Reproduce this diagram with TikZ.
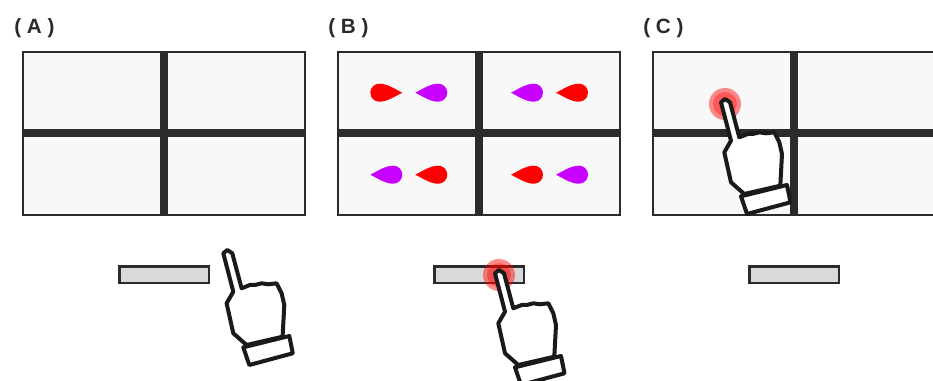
\documentclass[tikz,border=0pt]{standalone}
\usepackage{fontspec}
\setmainfont{Liberation Sans}
\usepackage{xcolor}
\definecolor{frame}{HTML}{2B2B2B}
\definecolor{screen}{HTML}{F8F8F8}
\definecolor{button}{HTML}{D9D9D9}
\definecolor{ink}{HTML}{1A1A1A}
\definecolor{violet}{HTML}{C800FF}
\tikzset{
  panellabel/.style={anchor=west,font=\bfseries\fontsize{15.5}{15.5}\selectfont,text=frame,inner sep=0pt},
  panel/.pic={
    \draw[frame,line width=2.1pt,fill=screen] (0,0) rectangle (282,163);
    \draw[frame,line width=5.6pt] (141,0) -- (141,163);
    \draw[frame,line width=5.6pt] (0,81) -- (282,81);
    \draw[frame,line width=1.8pt,fill=button] (96.5,214.5) rectangle (186,231);
  },
  drop/.pic={
    \fill (23,0) .. controls (15,-4) and (8,-9) .. (0,-9) .. controls (-5,-9) and (-9,-5) .. (-9,0)
      .. controls (-9,5) and (-5,9) .. (0,9) .. controls (8,9) and (15,4) .. (23,0) -- cycle;
  },
  halo/.pic={
    \fill[red,opacity=0.45] (0,5) circle (16);
    \fill[red,opacity=0.35] (0,5) circle (12);
  },
  hand/.pic={
    \draw[ink,line width=3pt,line join=round,fill=white] (-4,3.3) -- (0,0) -- (5,3.3) -- (14.3,38.3)
      -- (22.7,35) -- (27.7,35) -- (34.3,33.3) -- (41,34.3) -- (49.3,33.3) -- (54.3,43.3) -- (57,55)
      -- (55.3,86.7) -- (19.3,95) -- (6,83.3) -- (-0.7,53.3) -- (6,41.7) -- cycle;
    \draw[ink,line width=3pt,line join=round,fill=white] (16,97.3) -- (62,86) -- (65.5,103.3) -- (22,115) -- cycle;
  }
}

\begin{document}
\begin{tikzpicture}[x=0.75pt,y=-0.75pt]
\useasboundingbox (0,0) rectangle (933,381);
\clip (0,0) rectangle (933,381);

%draw the three panels
\foreach \x in {23,338,653}
  \pic at (\x,52) {panel};

\node[panellabel] (labelA) at (14,28) {( A )};
\node[panellabel] (labelB) at (328,28) {( B )};
\node[panellabel] (labelC) at (643,28) {( C )};

%draw the drops of panel B
\foreach \x/\y/\dir/\col in {379.3/92.7/0/red,438.3/92.7/180/violet,534/92.7/180/violet,579/92.7/180/red,
  393.3/174.7/180/violet,438.3/174.7/180/red,534/174.7/180/red,579/174.7/180/violet}
  \pic[\col,rotate=\dir] at (\x,\y) {drop};

%draw the hands
\pic at (227.3,250) {hand};
\pic at (499,270) {halo};
\pic at (499,270) {hand};
\pic at (725,99) {halo};
\pic at (725,99) {hand};
\end{tikzpicture}
\end{document}
